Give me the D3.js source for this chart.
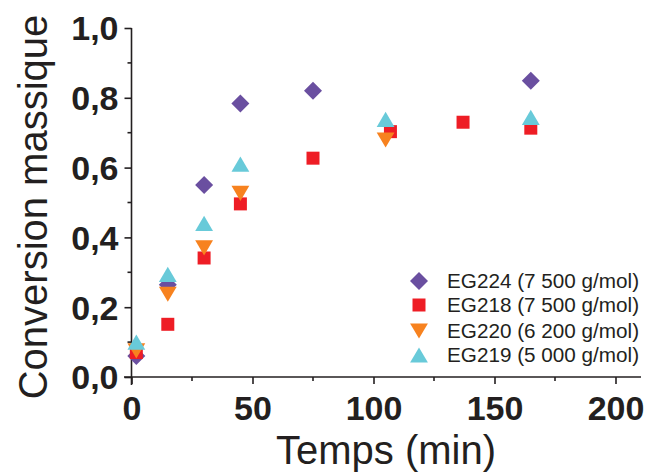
<!DOCTYPE html>
<html><head><meta charset="utf-8">
<script src="https://cdn.jsdelivr.net/npm/d3@7"></script>
<style>
body{margin:0;background:#fff;}
svg{display:block;font-family:"Liberation Sans",Arial,sans-serif;}
</style></head>
<body><svg id="c" width="648" height="475"></svg>
<script>
const xTicks = [0, 50, 100, 150, 200];
const yTicks = [0, 0.2, 0.4, 0.6, 0.8, 1.0];
const xTitle = "Temps (min)";
const yTitle = "Conversion massique";

const seriesNames = ["EG224 (7 500 g/mol)", "EG218 (7 500 g/mol)", "EG220 (6 200 g/mol)", "EG219 (5 000 g/mol)"];
const seriesColors = ["#6a4fa0", "#ee1d25", "#f7821f", "#68cad9"];
const seriesShapes = ["diamond", "square", "down", "up"];

const eg224T = [2, 15, 30, 45, 75, 165];
const eg224V = [0.06, 0.264, 0.55, 0.784, 0.82, 0.849];
const eg218T = [2, 15, 30, 45, 75, 107, 137, 165];
const eg218V = [0.07, 0.151, 0.341, 0.496, 0.627, 0.703, 0.73, 0.713];
const eg220T = [2, 15, 30, 45, 105];
const eg220V = [0.075, 0.237, 0.37, 0.526, 0.679];
const eg219T = [2, 15, 30, 45, 105, 165];
const eg219V = [0.10, 0.294, 0.44, 0.61, 0.738, 0.744];

const seriesT = [eg224T, eg218T, eg220T, eg219T];
const seriesV = [eg224V, eg218V, eg220V, eg219V];

const svg = d3.select("#c");
const ink = "#231f20";

const x = d3.scaleLinear().domain([0, 200]).range([131.5, 615.5]);
const y = d3.scaleLinear().domain([0, 1]).range([377, 28]);

// custom symbol types (bbox centered)
const symDiamond = {draw(ctx, size){ const r = Math.sqrt(size/2); ctx.moveTo(0,-r); ctx.lineTo(r,0); ctx.lineTo(0,r); ctx.lineTo(-r,0); ctx.closePath(); }};
const symSquare = {draw(ctx, size){ const h = Math.sqrt(size)/2; ctx.rect(-h,-h,2*h,2*h); }};
const symUp = {draw(ctx, size){ const w = Math.sqrt(size*2/0.85)/2, h = w*0.85; ctx.moveTo(0,-h); ctx.lineTo(w,h); ctx.lineTo(-w,h); ctx.closePath(); }};
const symDown = {draw(ctx, size){ const w = Math.sqrt(size*2/0.85)/2, h = w*0.85; ctx.moveTo(0,h); ctx.lineTo(w,-h); ctx.lineTo(-w,-h); ctx.closePath(); }};
const symTypes = {diamond: symDiamond, square: symSquare, up: symUp, down: symDown};
const symSizes = {diamond: 162, square: 169, up: 135, down: 135};

// axes lines
const g = svg.append("g");
g.append("line").attr("x1", 124).attr("x2", 641).attr("y1", y(0)).attr("y2", y(0)).attr("stroke", ink).attr("stroke-width", 1.6);
g.append("line").attr("x1", x(0)).attr("x2", x(0)).attr("y1", y(1)).attr("y2", 385).attr("stroke", ink).attr("stroke-width", 1.6);

// x ticks
const xAxis = d3.axisBottom(x).tickValues(xTicks).tickSize(7).tickSizeOuter(0).tickFormat(d3.format("d"));
const xg = svg.append("g").attr("transform", `translate(0,${y(0)})`).call(xAxis);
xg.select(".domain").remove();
xg.selectAll(".tick line").attr("stroke", ink).attr("stroke-width", 1.6);
xg.selectAll(".tick text").attr("fill", ink).attr("font-size", 34).attr("font-weight", "bold").attr("font-family", "Liberation Sans, Arial, sans-serif").attr("dy", null).attr("y", 43);
const xMinor = [25, 75, 125, 175];
svg.append("g").selectAll("line").data(xMinor).join("line")
  .attr("x1", d => x(d)).attr("x2", d => x(d)).attr("y1", y(0)).attr("y2", y(0) + 4)
  .attr("stroke", ink).attr("stroke-width", 1.6);

// y ticks
const yAxis = d3.axisLeft(y).tickValues(yTicks).tickSize(7).tickSizeOuter(0).tickFormat(d => d3.format(".1f")(d).replace(".", ","));
const yg = svg.append("g").attr("transform", `translate(${x(0)},0)`).call(yAxis);
yg.select(".domain").remove();
yg.selectAll(".tick line").attr("stroke", ink).attr("stroke-width", 1.6);
yg.selectAll(".tick text").attr("fill", ink).attr("font-size", 34).attr("font-weight", "bold").attr("font-family", "Liberation Sans, Arial, sans-serif").attr("x", -13).attr("dy", "0.35em");
const yMinor = [0.1, 0.3, 0.5, 0.7, 0.9];
svg.append("g").selectAll("line").data(yMinor).join("line")
  .attr("x1", x(0) - 4).attr("x2", x(0)).attr("y1", d => y(d)).attr("y2", d => y(d))
  .attr("stroke", ink).attr("stroke-width", 1.6);

// titles
svg.append("text").attr("x", 386).attr("y", 464).attr("text-anchor", "middle")
  .attr("font-size", 40).attr("fill", ink).text(xTitle);
svg.append("text").attr("transform", "translate(47,207) rotate(-90)").attr("text-anchor", "middle")
  .attr("font-size", 40).attr("fill", ink).text(yTitle);

// points
seriesNames.forEach((name, i) => {
  const data = seriesT[i].map((t, j) => ({t, v: seriesV[i][j]}));
  const sym = d3.symbol().type(symTypes[seriesShapes[i]]).size(symSizes[seriesShapes[i]]);
  svg.append("g").selectAll("path").data(data).join("path")
    .attr("transform", d => `translate(${x(d.t)},${y(d.v)})`)
    .attr("d", sym).attr("fill", seriesColors[i]);
});

// legend
const legY = [281, 305, 331, 355];
const leg = svg.append("g");
seriesNames.forEach((name, i) => {
  const sym = d3.symbol().type(symTypes[seriesShapes[i]]).size(symSizes[seriesShapes[i]]);
  leg.append("path").attr("transform", `translate(419,${legY[i]})`).attr("d", sym).attr("fill", seriesColors[i]);
  leg.append("text").attr("x", 447).attr("y", legY[i]).attr("dy", "0.36em")
    .attr("font-size", 20.7).attr("fill", ink).text(name);
});
</script></body></html>
